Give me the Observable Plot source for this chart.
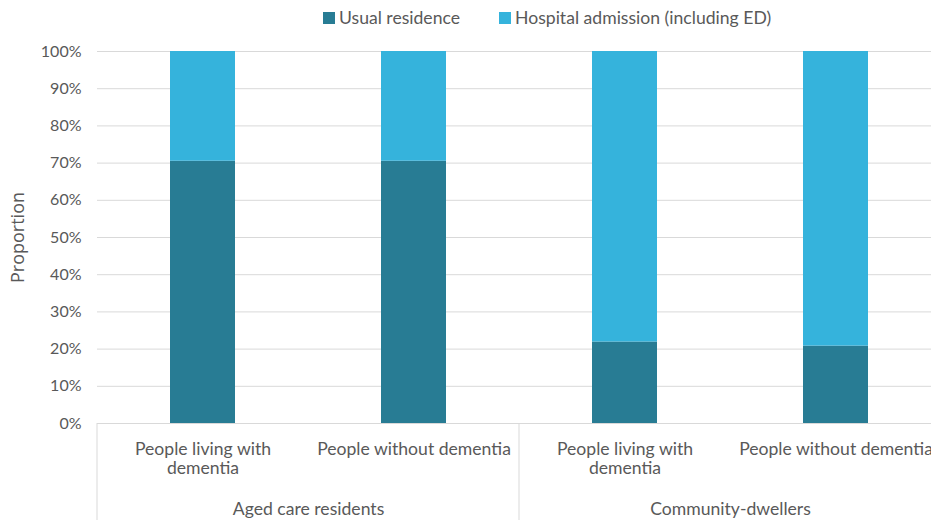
<!DOCTYPE html>
<html>
<head>
<meta charset="utf-8">
<script src="https://cdn.jsdelivr.net/npm/d3@7"></script>
<script src="https://cdn.jsdelivr.net/npm/@observablehq/plot@0.6"></script>
<style>
  html, body { margin: 0; padding: 0; background: #fff; overflow: hidden; width: 931px; height: 520px; }
  #legend { height: 34px; display: flex; align-items: center; font-family: Lato, sans-serif; font-size: 17.6px; color: #595959; padding-left: 323px; box-sizing: border-box; padding-top: 1px; }
  #legend span.sw { display: inline-block; width: 12px; height: 12px; margin-right: 4px; }
  #legend .item { display: inline-flex; align-items: center; margin-right: 39px; white-space: nowrap; }
  #chart svg { max-width: none !important; }
</style>
</head>
<body>
<div id="legend"></div>
<div id="chart"></div>
<script>
const groups = ["Aged care residents", "Aged care residents", "Community-dwellers", "Community-dwellers"];
const categories = ["People living with\ndementia", "People without dementia", "People living with\ndementia", "People without dementia"];
const usualResidence = [0.705, 0.705, 0.219, 0.208];
const seriesNames = ["Usual residence", "Hospital admission (including ED)"];
const seriesColors = ["#287C94", "#35B3DC"];
const yTicks = [0, 0.1, 0.2, 0.3, 0.4, 0.5, 0.6, 0.7, 0.8, 0.9, 1.0];

const data = [];
groups.forEach((g, i) => {
  data.push({group: g, category: categories[i], series: seriesNames[0], value: usualResidence[i]});
  data.push({group: g, category: categories[i], series: seriesNames[1], value: 1 - usualResidence[i]});
});

// legend
const legend = document.getElementById("legend");
seriesNames.forEach((s, i) => {
  const it = document.createElement("span");
  it.className = "item";
  it.innerHTML = `<span class="sw" style="background:${seriesColors[i]}"></span>${s}`;
  legend.appendChild(it);
});

const font = "Lato, sans-serif";
const plot = Plot.plot({
  width: 941,
  height: 486,
  marginTop: 17,
  marginLeft: 97,
  marginRight: 0,
  marginBottom: 97,
  style: {fontFamily: font, fontSize: "18px", color: "#595959", background: "transparent", maxWidth: "none"},
  fx: {domain: ["Aged care residents", "Community-dwellers"], padding: 0, label: null},
  x: {domain: ["People living with\ndementia", "People without dementia"], paddingInner: 0.69, paddingOuter: 0.345, label: null},
  y: {domain: [0, 1], label: null},
  color: {domain: seriesNames, range: seriesColors},
  marks: [
    Plot.ruleY(yTicks, {stroke: "#D9D9D9", strokeWidth: 1, strokeOpacity: 1, facet: "exclude"}),
    Plot.barY(data, Plot.stackY({fx: "group", x: "category", y: "value", fill: "series", order: seriesNames})),
    Plot.axisY({ticks: yTicks, tickFormat: d => Math.round(d * 100) + "%", tickSize: 0, tickPadding: 16, fontSize: 16, fill: "#595959",
      label: "Proportion", labelArrow: "none", labelAnchor: "center", labelOffset: 86}),
    Plot.axisX({anchor: "bottom", tickSize: 0, tickPadding: 17, lineHeight: 1.12, fontSize: 17.6, fill: "#595959", label: null}),
    Plot.axisFx({anchor: "bottom", tickSize: 0, tickPadding: 79, fontSize: 17.6, fill: "#595959", label: null})
  ]
});
document.getElementById("chart").appendChild(plot);

// group divider lines below the axis, from the fx scale
const svg = d3.select(plot);
const fx = plot.scale("fx");
const yS = plot.scale("y");
const y0 = yS.apply(0);
const starts = fx.domain.map(d => fx.apply(d));
starts.push(starts[starts.length - 1] + fx.bandwidth);
svg.append("g").attr("stroke", "#D9D9D9").selectAll("line").data(starts).join("line")
  .attr("x1", d => d).attr("x2", d => d).attr("y1", y0).attr("y2", 486);
svg.selectAll("[aria-label='y-axis label'] text")
  .text("Proportion")
  .style("font-family", "'Open Sans', sans-serif").style("font-size", "18px");
</script>
</body>
</html>
